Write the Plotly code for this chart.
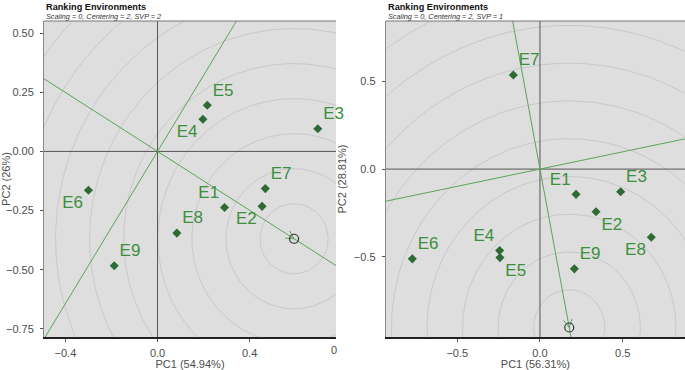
import numpy as np
import plotly.graph_objects as go

# ---------------- data ----------------
env_labels = ["E1", "E2", "E3", "E4", "E5", "E6", "E7", "E8", "E9"]

left_pc1 = [0.291, 0.454, 0.696, 0.197, 0.216, -0.300, 0.468, 0.084, -0.188]
left_pc2 = [-0.237, -0.232, 0.096, 0.136, 0.195, -0.164, -0.157, -0.345, -0.483]
left_ideal = [0.593, -0.369]
left_ring_step = 0.148

right_pc1 = [0.218, 0.339, 0.488, -0.244, -0.242, -0.772, -0.161, 0.673, 0.208]
right_pc2 = [-0.144, -0.243, -0.129, -0.464, -0.504, -0.511, 0.536, -0.388, -0.568]
right_ideal = [0.177, -0.902]
right_ring_step = 0.215

left_title = "Ranking Environments"
left_sub = "Scaling = 0, Centering = 2, SVP = 2"
right_title = "Ranking Environments"
right_sub = "Scaling = 0, Centering = 2, SVP = 1"
left_xlab, left_ylab = "PC1 (54.94%)", "PC2 (26%)"
right_xlab, right_ylab = "PC1 (56.31%)", "PC2 (28.81%)"

left_xticks = [-0.4, 0.0, 0.4, 0.8]
left_yticks = [0.50, 0.25, 0.00, -0.25, -0.50, -0.75]
right_xticks = [-0.5, 0.0, 0.5]
right_yticks = [0.5, 0.0, -0.5]

left_textpos = ["top left", "bottom left", "top right", "bottom left", "top right",
                "bottom left", "top right", "top right", "top right"]
right_textpos = ["top left", "bottom right", "top right", "top left", "bottom right",
                 "top right", "top right", "bottom left", "top right"]

# ---------------- style ----------------
BG = "#dedede"
RING = "#c3c3c3"
LINE_G = "#5aa55a"
PT_G = "#2e6b34"
TXT_G = "#3d8f3d"
TICK = "#4d4d4d"
FONT = "Liberation Sans, Arial, sans-serif"

left_xrange = [-0.493, 0.775]
left_yrange = [-0.784, 0.551]
right_xrange = [-0.933, 0.877]
right_yrange = [-0.956, 0.843]

# pixel domains
W, H = 685, 370
left_dom_x = [44 / W, 336 / W]
right_dom_x = [385.7 / W, 1.0]
dom_y = [1 - 337 / H, 1 - 21 / H]

fig = go.Figure()


def add_panel(xa, ya, pc1, pc2, ideal, step, textpos, xr, yr, dx):
    ix, iy = ideal
    # concentric rings around ideal environment
    t = np.linspace(0, 2 * np.pi, 361)
    for k in range(1, 16):
        r = k * step
        fig.add_trace(go.Scatter(x=ix + r * np.cos(t), y=iy + r * np.sin(t), mode="lines",
                                 line=dict(color=RING, width=0.8), hoverinfo="skip",
                                 showlegend=False, xaxis=xa, yaxis=ya))
    # zero axes
    fig.add_trace(go.Scatter(x=[0, 0], y=[-5, 5], mode="lines", line=dict(color="#555555", width=1),
                             hoverinfo="skip", showlegend=False, xaxis=xa, yaxis=ya))
    fig.add_trace(go.Scatter(x=[-5, 5], y=[0, 0], mode="lines", line=dict(color="#555555", width=1),
                             hoverinfo="skip", showlegend=False, xaxis=xa, yaxis=ya))
    # average environment axis (through origin and ideal)
    s = 20
    fig.add_trace(go.Scatter(x=[-s * ix, s * ix], y=[-s * iy, s * iy], mode="lines",
                             line=dict(color=LINE_G, width=1), hoverinfo="skip",
                             showlegend=False, xaxis=xa, yaxis=ya))
    # perpendicular line
    fig.add_trace(go.Scatter(x=[-s * iy, s * iy], y=[s * ix, -s * ix], mode="lines",
                             line=dict(color=LINE_G, width=1), hoverinfo="skip",
                             showlegend=False, xaxis=xa, yaxis=ya))
    # arrow head at ideal point
    sx = (dx[1] - dx[0]) * W / (xr[1] - xr[0])
    sy = (dom_y[1] - dom_y[0]) * H / (yr[1] - yr[0])
    vx, vy = -ix * sx, -iy * sy
    n = np.hypot(vx, vy)
    vx, vy = vx / n, vy / n
    for ang in (np.radians(28), -np.radians(28)):
        wx = vx * np.cos(ang) - vy * np.sin(ang)
        wy = vx * np.sin(ang) + vy * np.cos(ang)
        L = 9
        fig.add_trace(go.Scatter(x=[ix, ix + wx * L / sx], y=[iy, iy + wy * L / sy], mode="lines",
                                 line=dict(color=LINE_G, width=1), hoverinfo="skip",
                                 showlegend=False, xaxis=xa, yaxis=ya))
    fig.add_trace(go.Scatter(x=[ix], y=[iy], mode="markers",
                             marker=dict(symbol="circle-open", size=9, color="#333333",
                                         line=dict(width=1.2, color="#333333")),
                             hoverinfo="skip", showlegend=False, xaxis=xa, yaxis=ya))
    # environments
    fig.add_trace(go.Scatter(x=pc1, y=pc2, mode="markers+text", text=env_labels,
                             textposition=textpos, cliponaxis=False,
                             textfont=dict(color=TXT_G, size=17, family=FONT),
                             marker=dict(symbol="diamond", size=7, color=PT_G),
                             showlegend=False, xaxis=xa, yaxis=ya))


add_panel("x", "y", left_pc1, left_pc2, left_ideal, left_ring_step, left_textpos,
          left_xrange, left_yrange, left_dom_x)
add_panel("x2", "y2", right_pc1, right_pc2, right_ideal, right_ring_step, right_textpos,
          right_xrange, right_yrange, right_dom_x)

axis_common = dict(showgrid=False, zeroline=False, ticks="outside", ticklen=3, tickcolor="#555555",
                   tickfont=dict(size=11, color=TICK, family=FONT), fixedrange=True,
                   automargin=False)
title_font = dict(size=11, color=TICK, family=FONT)

fig.update_layout(
    template="none",
    width=W, height=H, margin=dict(l=0, r=0, t=0, b=0, pad=0, autoexpand=False),
    paper_bgcolor="white", plot_bgcolor=BG, showlegend=False,
    font=dict(family=FONT),
    xaxis=dict(domain=left_dom_x, range=left_xrange, anchor="y", tickvals=left_xticks,
               tickformat=".1f", showline=True, linecolor="#222222", linewidth=1.5,
               ticklabelstandoff=2,
               title=dict(text=left_xlab, font=title_font, standoff=4),
               **axis_common),
    yaxis=dict(domain=dom_y, range=left_yrange, anchor="x", tickvals=left_yticks,
               tickformat=".2f", showline=True, linecolor="#888888", linewidth=1,
               ticklabelstandoff=4,
               title=dict(text=left_ylab, font=title_font, standoff=4),
               **axis_common),
    xaxis2=dict(domain=right_dom_x, range=right_xrange, anchor="y2", tickvals=right_xticks,
                tickformat=".1f", showline=True, linecolor="#222222", linewidth=1.5,
                ticklabelstandoff=2,
                title=dict(text=right_xlab, font=title_font, standoff=4),
                **axis_common),
    yaxis2=dict(domain=dom_y, range=right_yrange, anchor="x2", tickvals=right_yticks,
                tickformat=".1f", showline=True, linecolor="#888888", linewidth=1,
                ticklabelstandoff=4,
                title=dict(text=right_ylab, font=title_font, standoff=4),
                **axis_common),
)

# top borders
for xr_, yr_ in (("x domain", "y domain"), ("x2 domain", "y2 domain")):
    fig.add_shape(type="line", xref=xr_, yref=yr_, x0=0, x1=1, y0=1, y1=1,
                  line=dict(color="#777777", width=1.2))

# titles
for dx, title, sub in ((left_dom_x, left_title, left_sub), (right_dom_x, right_title, right_sub)):
    fig.add_annotation(xref="paper", yref="paper", x=dx[0], y=1 - 7 / H, xanchor="left",
                       yanchor="middle", showarrow=False, text="<b>" + title + "</b>",
                       font=dict(size=9.2, color="#111111", family=FONT))
    fig.add_annotation(xref="paper", yref="paper", x=dx[0], y=1 - 16 / H, xanchor="left",
                       yanchor="middle", showarrow=False, text="<i>" + sub + "</i>",
                       font=dict(size=7.3, color="#333333", family=FONT))

# clipped "0.8" tick label of the left panel shows only its leading "0"
fig.add_annotation(xref="paper", yref="paper", x=339 / W, y=1 - 350 / H, xanchor="right",
                   yanchor="middle", showarrow=False, text="0",
                   font=dict(size=11, color=TICK, family=FONT))

fig.write_html("out.html", config={"displayModeBar": False},
               post_script="document.body.style.margin='0';document.body.style.overflow='hidden';")
